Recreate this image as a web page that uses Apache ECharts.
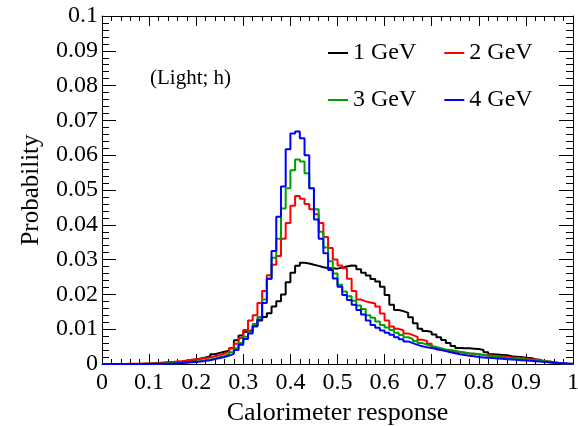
<!DOCTYPE html>
<html>
<head>
<meta charset="utf-8">
<script src="https://cdn.jsdelivr.net/npm/echarts@6/dist/echarts.min.js"></script>
<style>html,body{margin:0;padding:0;background:#fff}#c{width:578px;height:426px}</style>
</head>
<body>
<div id="c"></div>
<script>
// Bin width 0.01, 100 bins from 0 to 1 (values are per-bin probabilities)
const binWidth = 0.01;
const seriesNames = ['1 GeV', '2 GeV', '3 GeV', '4 GeV'];
const seriesColors = ['#000000', '#ff0000', '#00a000', '#0000ff'];

const e1 = [
  0,0,0,0,0,0,0,0,0.0001,0.0001,
  0.0001,0.0002,0.0003,0.0004,0.0005,0.0006,0.0007,0.0009,0.0011,0.0013,
  0.0016,0.0019,0.0022,0.0028,0.0032,0.0035,0.0038,0.0045,0.0068,0.0082,
  0.0093,0.0098,0.011,0.0125,0.0135,0.0146,0.0165,0.018,0.020,0.0235,
  0.0262,0.0282,0.0291,0.0289,0.0285,0.0282,0.0278,0.0276,0.0275,0.0274,
  0.0277,0.028,0.0283,0.0282,0.0272,0.0262,0.0254,0.0244,0.0237,0.0222,
  0.0198,0.017,0.0155,0.0152,0.0147,0.0134,0.0117,0.0101,0.0095,0.0092,
  0.0085,0.0077,0.0069,0.006,0.0052,0.0046,0.0045,0.0045,0.0044,0.0043,
  0.004,0.0034,0.0028,0.0027,0.0026,0.0025,0.0022,0.0021,0.002,0.0018,
  0.0017,0.0014,0.0012,0.0007,0.0005,0.0003,0.0001,0,0,0
];
const e2 = [
  0,0,0,0,0,0.0001,0.0001,0.0001,0.0001,0.0002,
  0.0002,0.0003,0.0004,0.0005,0.0006,0.0007,0.0008,0.001,0.0012,0.0014,
  0.0015,0.0017,0.0019,0.0022,0.0025,0.003,0.0035,0.0045,0.0058,0.0075,
  0.0098,0.0125,0.014,0.0175,0.021,0.0255,0.0285,0.031,0.036,0.0405,
  0.0455,0.0483,0.0475,0.046,0.0445,0.043,0.0405,0.0365,0.0333,0.030,
  0.0283,0.0275,0.0245,0.021,0.0185,0.018,0.0177,0.0174,0.0165,0.0145,
  0.0125,0.0108,0.0101,0.0097,0.0088,0.0083,0.0078,0.007,0.0066,0.0058,
  0.0048,0.0042,0.0038,0.0036,0.0035,0.0034,0.0032,0.003,0.0029,0.0028,
  0.0026,0.0025,0.0024,0.0023,0.0022,0.002,0.0019,0.0018,0.0017,0.0016,
  0.0014,0.0013,0.0011,0.0009,0.0007,0.0005,0.0003,0.0002,0.0001,0
];
const e3 = [
  0,0,0,0,0,0,0,0,0.0001,0.0001,
  0.0001,0.0001,0.0001,0.0002,0.0002,0.0002,0.0003,0.0004,0.0006,0.0007,
  0.0009,0.0011,0.0013,0.0016,0.0019,0.0023,0.0028,0.0034,0.0045,0.006,
  0.0078,0.0093,0.0115,0.0135,0.0185,0.0245,0.0305,0.036,0.0447,0.0505,
  0.0557,0.0588,0.0582,0.0548,0.0505,0.0445,0.038,0.0335,0.0295,0.026,
  0.0228,0.0208,0.0195,0.0182,0.0168,0.0158,0.014,0.0133,0.0122,0.0112,
  0.0105,0.0098,0.009,0.0083,0.0077,0.0072,0.0066,0.006,0.0056,0.0052,
  0.0049,0.0045,0.0042,0.004,0.0038,0.0035,0.0033,0.0031,0.003,0.0028,
  0.0026,0.0024,0.0022,0.002,0.0019,0.0018,0.0016,0.0015,0.0014,0.0013,
  0.0012,0.0011,0.001,0.0008,0.0007,0.0005,0.0003,0.0002,0.0001,0
];
const e4 = [
  0,0,0,0,0,0,0,0,0,0,
  0.0001,0.0001,0.0001,0.0001,0.0001,0.0002,0.0003,0.0004,0.0005,0.0006,
  0.0007,0.0009,0.0011,0.0014,0.0017,0.002,0.0024,0.0029,0.004,0.0055,
  0.0072,0.0088,0.0108,0.0128,0.0175,0.0245,0.0325,0.0423,0.051,0.0617,
  0.0662,0.0668,0.0649,0.060,0.0505,0.0415,0.036,0.0318,0.027,0.0246,
  0.0222,0.0198,0.0184,0.017,0.0155,0.0142,0.0125,0.0112,0.0104,0.0096,
  0.009,0.0084,0.0077,0.0071,0.0065,0.006,0.0055,0.0051,0.0048,0.0046,
  0.0043,0.004,0.0037,0.0034,0.0031,0.0028,0.0026,0.0024,0.0022,0.002,
  0.0019,0.0018,0.0017,0.0016,0.0015,0.0014,0.0013,0.0012,0.0011,0.001,
  0.0009,0.0008,0.0007,0.0006,0.0005,0.0004,0.0003,0.0002,0.0001,0.0001
];
const allSeries = [e1, e2, e3, e4];

const xTitle = 'Calorimeter response';
const yTitle = 'Probability';
const annotation = '(Light; h)';

function histPoints(vals) {
  const pts = vals.map((v, i) => [+(i * binWidth).toFixed(2), v]);
  pts.push([+(vals.length * binWidth).toFixed(2), vals[vals.length - 1]]);
  return pts;
}

const FONT = 'Liberation Serif';
const black = '#000';

function xAx(pos, showLabel) {
  return {
    type: 'value', position: pos, min: 0, max: 1, interval: 0.1,
    axisLine: { show: true, onZero: false, lineStyle: { color: black, width: 1 } },
    axisTick: { show: true, inside: true, length: 10, lineStyle: { color: black } },
    minorTick: { show: true, splitNumber: 5, length: 5, lineStyle: { color: black } },
    splitLine: { show: false }, minorSplitLine: { show: false },
    axisLabel: {
      show: showLabel, margin: 7, color: black, fontFamily: FONT, fontSize: 24,
      formatter: v => String(+v.toFixed(2)), showMinLabel: true, showMaxLabel: true
    },
    name: showLabel ? xTitle : '', nameLocation: 'middle', nameGap: 33,
    nameTextStyle: { color: black, fontFamily: FONT, fontSize: 26 }
  };
}
function yAx(pos, showLabel) {
  return {
    type: 'value', position: pos, min: 0, max: 0.1, interval: 0.01,
    axisLine: { show: true, onZero: false, lineStyle: { color: black, width: 1 } },
    axisTick: { show: true, inside: true, length: 14, lineStyle: { color: black } },
    minorTick: { show: true, splitNumber: 5, length: 7, lineStyle: { color: black } },
    splitLine: { show: false }, minorSplitLine: { show: false },
    axisLabel: {
      show: showLabel, margin: 4, color: black, fontFamily: FONT, fontSize: 24,
      formatter: v => String(+v.toFixed(2)), showMinLabel: true, showMaxLabel: true
    },
    name: showLabel ? yTitle : '', nameLocation: 'middle', nameGap: 58,
    nameTextStyle: { color: black, fontFamily: FONT, fontSize: 25 }
  };
}

const chart = echarts.init(document.getElementById('c'), null, { renderer: 'canvas' });
chart.setOption({
  animation: false,
  backgroundColor: '#fff',
  grid: { left: 102, right: 5, top: 16, bottom: 62, containLabel: false, outerBoundsMode: 'none' },
  xAxis: [xAx('bottom', true), xAx('top', false)],
  yAxis: [yAx('left', true), yAx('right', false)],
  legend: [
    {
      data: [seriesNames[0], seriesNames[1]], left: 328, top: 41, padding: 0,
      itemGap: 28, itemWidth: 20, itemHeight: 2, icon: 'rect',
      textStyle: { fontFamily: FONT, fontSize: 24, color: black }
    },
    {
      data: [seriesNames[2], seriesNames[3]], left: 328, top: 88, padding: 0,
      itemGap: 28, itemWidth: 20, itemHeight: 2, icon: 'rect',
      textStyle: { fontFamily: FONT, fontSize: 24, color: black }
    }
  ],
  graphic: [
    {
      type: 'text', left: 150, top: 68,
      style: { text: annotation, font: '21px "Liberation Serif"', fill: black }
    }
  ],
  series: allSeries.map((vals, k) => ({
    name: seriesNames[k], type: 'line', step: 'end',
    xAxisIndex: 0, yAxisIndex: 0,
    data: histPoints(vals), showSymbol: false, symbol: 'none',
    lineStyle: { color: seriesColors[k], width: 2 },
    itemStyle: { color: seriesColors[k] },
    z: 2 + k
  }))
});
</script>
</body>
</html>
